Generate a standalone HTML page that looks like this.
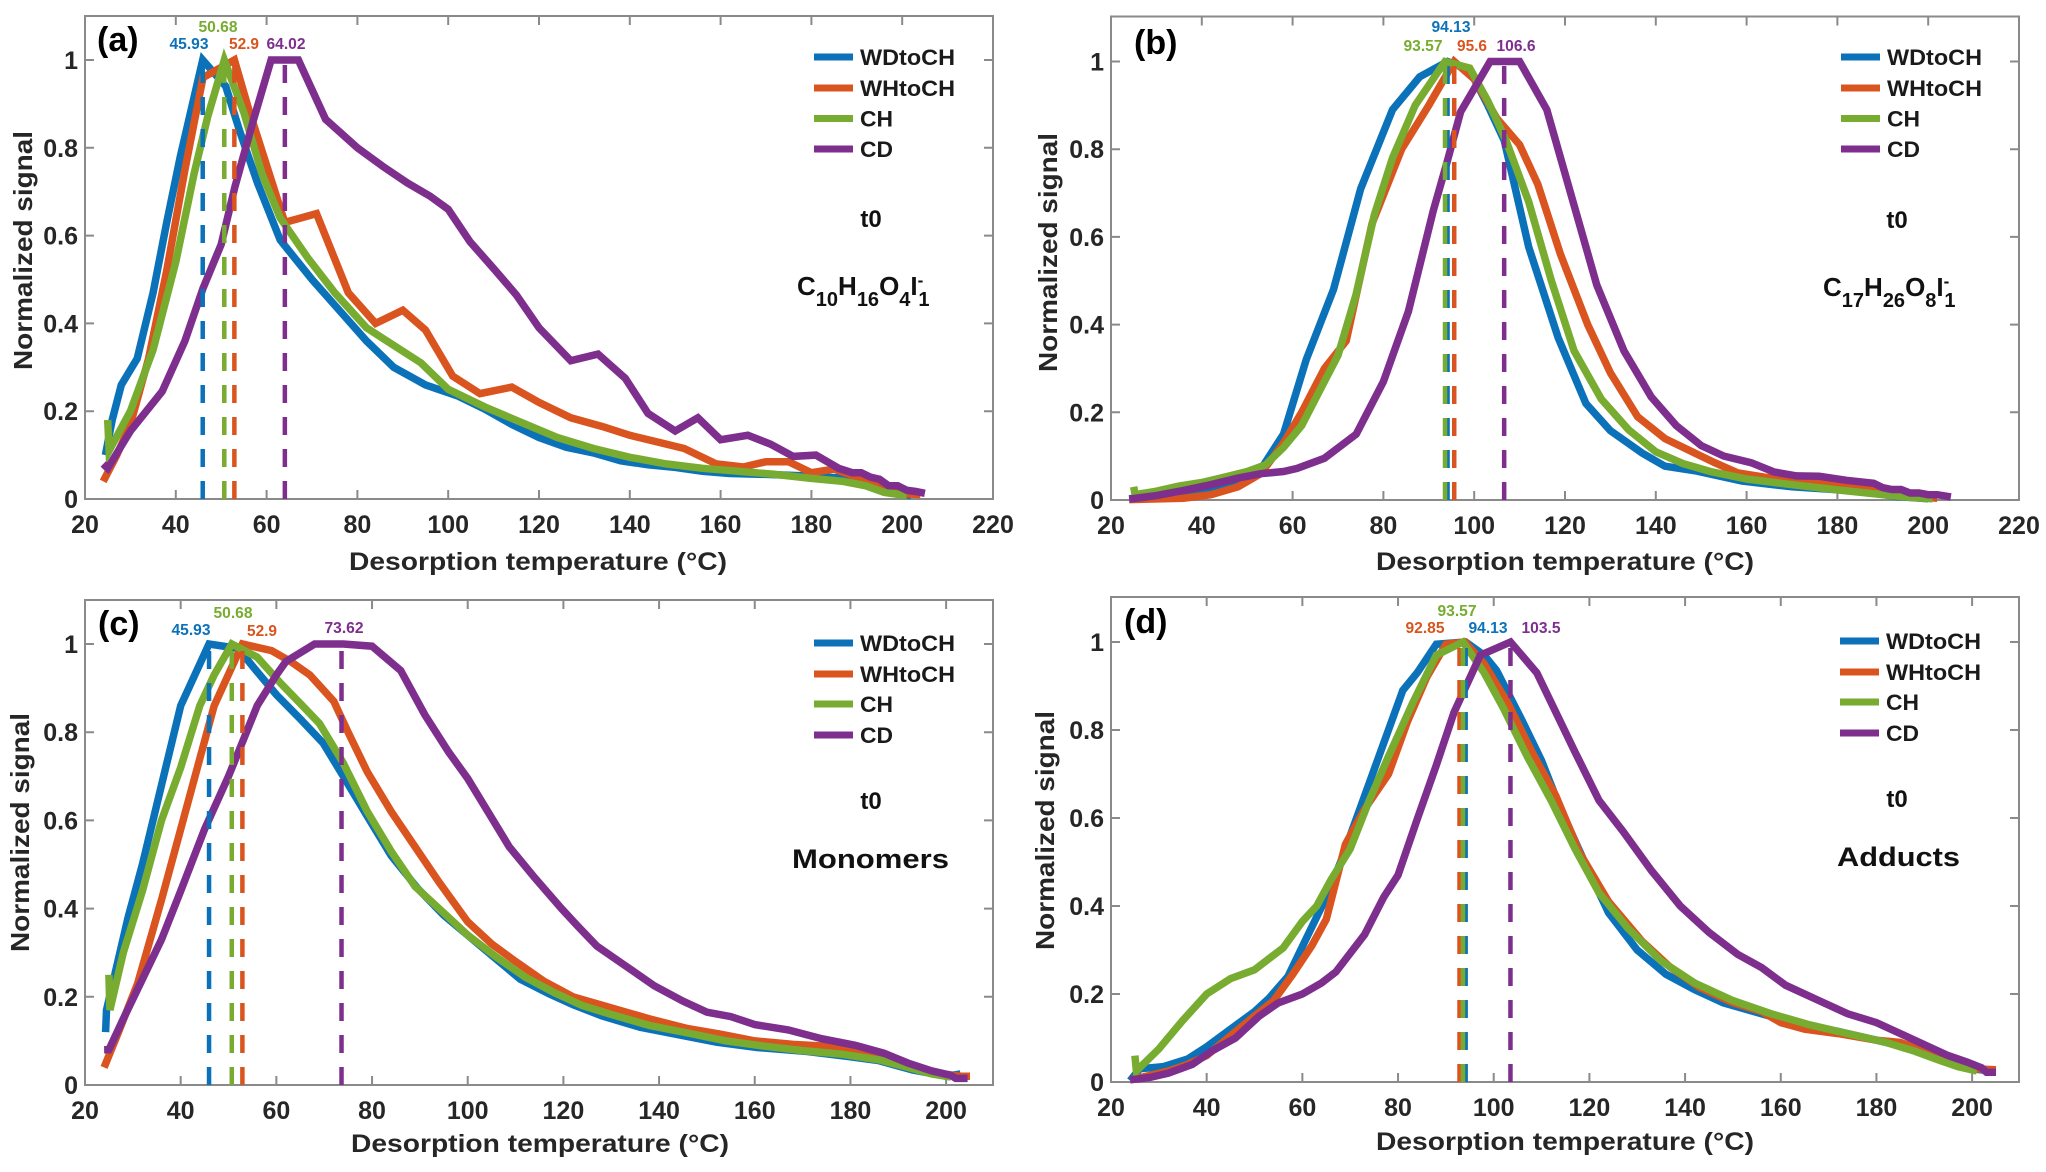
<!DOCTYPE html>
<html lang="en">
<head>
<meta charset="utf-8">
<title>Normalized thermograms</title>
<style>
html,body{margin:0;padding:0;background:#fff;}
svg{display:block;font-family:"Liberation Sans",sans-serif;font-weight:bold;}
</style>
</head>
<body>
<svg id="chart" xmlns="http://www.w3.org/2000/svg" width="2046" height="1172" viewBox="0 0 2046 1172"></svg>
<script>
const seriesNames = ['WDtoCH', 'WHtoCH', 'CH', 'CD'];
const yTickLabels = [0, 0.2, 0.4, 0.6, 0.8, 1];
const xTickLabelsTop = [20, 40, 60, 80, 100, 120, 140, 160, 180, 200, 220];
const xTickLabelsBottom = [20, 40, 60, 80, 100, 120, 140, 160, 180, 200];

// Panel (a)
const aPeaks = [45.93, 52.9, 50.68, 64.02];
const aWDtoCH_T = [24.5,26,28,31.5,35,38,41,45.93,51,54,58,63,70,76,82,88,95,102,108,114,120,126,132,138,144,150,156,162,170,178,186,192,198,202];
const aWDtoCH_V = [0.1,0.18,0.26,0.32,0.47,0.63,0.78,1,0.94,0.84,0.72,0.59,0.5,0.43,0.36,0.3,0.26,0.235,0.205,0.17,0.14,0.118,0.105,0.087,0.078,0.072,0.063,0.058,0.056,0.053,0.048,0.035,0.015,0.008];
const aWHtoCH_T = [24,27,30,34,38,42,46,52.9,56,60,64,71,78,84,90,95,101,107,114,120,127,134,140,146,152,159,165,170,175,180,185,190,195,200,204];
const aWHtoCH_V = [0.04,0.1,0.17,0.32,0.52,0.75,0.96,1,0.89,0.76,0.63,0.65,0.47,0.4,0.43,0.385,0.28,0.24,0.255,0.22,0.185,0.165,0.145,0.13,0.115,0.08,0.073,0.085,0.085,0.06,0.068,0.05,0.03,0.012,0.01];
const aCH_T = [25,25.3,30,35,40,44,47,50.68,55,59,63,69,75,82,88,94,100,108,116,124,132,140,148,156,164,172,180,187,192,196,201];
const aCH_V = [0.18,0.11,0.2,0.34,0.54,0.74,0.87,1,0.88,0.74,0.64,0.55,0.47,0.39,0.35,0.31,0.25,0.21,0.175,0.14,0.115,0.095,0.08,0.07,0.063,0.056,0.047,0.04,0.03,0.015,0.008];
const aCD_T = [24,25,30,37,42,46,50,53,57,61,67,73,80,86,91,96,100,104.8,110,115,120,127,133,139,144,150,155,160,166,171,176,181,186,189,191,193,195,197,199,201,203,205];
const aCD_V = [0.08,0.07,0.155,0.245,0.36,0.48,0.58,0.71,0.86,1,1,0.865,0.8,0.755,0.72,0.69,0.66,0.586,0.525,0.465,0.39,0.315,0.33,0.275,0.195,0.155,0.185,0.135,0.145,0.125,0.097,0.1,0.07,0.06,0.06,0.05,0.045,0.03,0.03,0.02,0.017,0.013];

// Panel (b)
const bPeaks = [94.13, 95.6, 93.57, 106.6];
const bWDtoCH_T = [24,30,36,42,48,53,58,63,69,75,82,88,94.13,99,103,106.6,112,118.5,124.6,130,137,142,149,159,170,185,193,200];
const bWDtoCH_V = [0.003,0.008,0.015,0.025,0.045,0.07,0.15,0.32,0.48,0.71,0.89,0.965,1,0.98,0.9,0.82,0.577,0.37,0.22,0.158,0.107,0.077,0.066,0.043,0.03,0.02,0.008,0.003];
const bWHtoCH_T = [24,36,42,48,53,58,62,67,71.8,77.5,84,90,95.6,100,105,110,114,119,125,130,136,142,148,153,158,164,172,180,187,192,197,202];
const bWHtoCH_V = [0.001,0.004,0.012,0.03,0.06,0.13,0.2,0.3,0.363,0.63,0.8,0.9,1,0.96,0.87,0.81,0.72,0.56,0.4,0.29,0.19,0.14,0.11,0.085,0.062,0.052,0.045,0.035,0.028,0.015,0.008,0.004];
const bCH_T = [25,25.3,30,35,40,45,50,54,58,62,66,70,74,78,82,87,93.57,99,103,107,112,117,122,128,134,140,146,152,160,170,180,190,196,201];
const bCH_V = [0.03,0.012,0.02,0.032,0.04,0.052,0.065,0.08,0.12,0.17,0.25,0.33,0.47,0.65,0.78,0.9,1,0.985,0.91,0.82,0.68,0.5,0.34,0.23,0.16,0.11,0.083,0.065,0.048,0.035,0.023,0.012,0.006,0.003];
const bCD_T = [24,30,36,42,48,53,58,61,67,74,80,85.5,91,94,97,103.5,110,116,121.5,127,133,139,144.5,150,155,161,166,171,176,182,188,190,192,194,196,198,200,202,205];
const bCD_V = [0.002,0.01,0.022,0.035,0.05,0.06,0.065,0.072,0.095,0.15,0.27,0.43,0.66,0.77,0.885,1,1,0.89,0.69,0.49,0.34,0.235,0.17,0.124,0.1,0.085,0.064,0.055,0.054,0.045,0.038,0.028,0.024,0.024,0.016,0.016,0.012,0.012,0.007];

// Panel (c)
const cPeaks = [45.93, 52.9, 50.68, 73.62];
const cWDtoCH_T = [24.3,24.5,26,29,32,36,40,45.93,52,55,60,65,69.8,74,78.7,84,89.6,95,100.5,106,111,117,122,128,136,144,152,160.5,171,180,186,193,200,203];
const cWDtoCH_V = [0.12,0.17,0.24,0.38,0.5,0.68,0.86,1,0.99,0.95,0.885,0.83,0.775,0.7,0.615,0.52,0.445,0.385,0.335,0.285,0.24,0.207,0.182,0.157,0.131,0.114,0.097,0.085,0.076,0.064,0.055,0.034,0.02,0.025];
const cWHtoCH_T = [24,27,31,36,40,44,47,52.9,59,63,67,72,75,79,84,89,94,100,105,110,116,122,130,138,146,153,160,168,175,182,188,193,198,203,205];
const cWHtoCH_V = [0.04,0.12,0.23,0.42,0.58,0.74,0.86,1,0.985,0.96,0.93,0.87,0.8,0.71,0.62,0.54,0.46,0.37,0.32,0.28,0.235,0.2,0.175,0.15,0.128,0.115,0.1,0.092,0.088,0.075,0.06,0.04,0.027,0.02,0.02];
const cCH_T = [25,25.2,28,32,36,40,44,47,50.68,56,61,65,69,74,79,84,89,95,100,106,112,118,124,130,138,146,154,162,170,178,186,192,197,201];
const cCH_V = [0.25,0.17,0.3,0.44,0.6,0.72,0.86,0.93,1,0.97,0.91,0.865,0.82,0.73,0.62,0.53,0.45,0.39,0.34,0.29,0.245,0.21,0.18,0.16,0.135,0.118,0.1,0.088,0.078,0.07,0.057,0.04,0.025,0.018];
const cCD_T = [24,25,28,32,36,40,45,50,53,56,60,62,68,74,80,86,91,96,100,104.5,108.7,114,119.6,123,127,133,139,145,150,155,160,167,174,181,187,192,197,201,202,204.5];
const cCD_V = [0.08,0.08,0.15,0.24,0.33,0.44,0.58,0.7,0.78,0.86,0.93,0.96,1,1,0.995,0.94,0.84,0.755,0.695,0.615,0.54,0.47,0.4,0.36,0.315,0.27,0.225,0.19,0.165,0.155,0.137,0.125,0.105,0.09,0.072,0.05,0.032,0.022,0.015,0.015];

// Panel (d)
const dPeaks = [94.13, 92.85, 93.57, 103.5];
const dWDtoCH_T = [24,26,31,36,40,45,50,53,57,61,65,68,72,76,81,84,88,94.13,98,100.6,106,110,114,119,124,130,136,142,148,156,164,172,180,186,192,197,200,204];
const dWDtoCH_V = [0.003,0.03,0.035,0.052,0.08,0.12,0.16,0.19,0.24,0.33,0.42,0.5,0.62,0.74,0.89,0.93,0.995,1,0.97,0.935,0.82,0.73,0.62,0.5,0.385,0.3,0.245,0.21,0.18,0.155,0.13,0.115,0.095,0.08,0.055,0.038,0.03,0.025];
const dWHtoCH_T = [24,27,32,36,40,45,50,54,58,62,65,69,73,78,82,86,90,94,98,103,108,113,118,124,131,137,143,150,156,160,165,172,180,185,190,195,200,205];
const dWHtoCH_V = [0.005,0.012,0.025,0.04,0.06,0.105,0.15,0.185,0.245,0.31,0.37,0.54,0.62,0.7,0.82,0.92,0.995,1,0.95,0.86,0.75,0.65,0.52,0.41,0.32,0.26,0.215,0.18,0.16,0.135,0.12,0.11,0.095,0.09,0.07,0.05,0.03,0.028];
const dCH_T = [25,25.3,30,35,40,45,50,56,60,63,66,70,74,78,83,88,93.57,98,102,107,112,117,122,128,135,142,150,158,166,174,182,188,193,197,201];
const dCH_V = [0.06,0.025,0.075,0.14,0.2,0.235,0.255,0.305,0.365,0.4,0.46,0.53,0.64,0.74,0.86,0.97,1,0.93,0.85,0.74,0.64,0.53,0.43,0.35,0.275,0.225,0.185,0.155,0.13,0.11,0.09,0.07,0.05,0.035,0.025];
const dCD_T = [24,28,32,37,41,46,51,55,60,64,67,73,77,80,84,88,91.7,97.2,103.5,109,113,117,122,127,133,139,145,151,156,161,168,174,180,185,190,195,199,202,203,205];
const dCD_V = [0.005,0.01,0.02,0.04,0.07,0.1,0.15,0.18,0.2,0.225,0.25,0.335,0.42,0.47,0.597,0.72,0.84,0.97,1,0.93,0.84,0.75,0.64,0.57,0.48,0.4,0.34,0.29,0.26,0.22,0.185,0.155,0.135,0.11,0.085,0.06,0.045,0.032,0.022,0.022];

const seriesColors = ['#0b72b9', '#d9541e', '#77ac30', '#7e2f8e'];
const svg = document.getElementById('chart');
const NS = 'http://www.w3.org/2000/svg';

function svgEl(tag, parent, attrs) {
  const el = document.createElementNS(NS, tag);
  for (const k in attrs) el.setAttribute(k, attrs[k]);
  parent.appendChild(el);
  return el;
}

const panels = [
  { id: 'a', left: 85, right: 993, top: 16, y0: 499, y1: 60, xMax: 220, xTicks: xTickLabelsTop,
    peaks: aPeaks, T: [aWDtoCH_T, aWHtoCH_T, aCH_T, aCD_T], V: [aWDtoCH_V, aWHtoCH_V, aCH_V, aCD_V],
    peakLabelPos: [[189, 49], [244, 49], [218, 32], [286, 49]],
    letterX: 97, letterY: 51, legendX: 814, legendY: [57, 88, 118.5, 149],
    t0X: 871, t0Y: 227, yTitleX: 32, yTitleTop: 131, xTitleLeft: 349, xTitleY: 570, formula: ['10', '16', '4'], formulaX: 797, formulaY: 295 },
  { id: 'b', left: 1111, right: 2019, top: 16.5, y0: 500, y1: 61.5, xMax: 220, xTicks: xTickLabelsTop,
    peaks: bPeaks, T: [bWDtoCH_T, bWHtoCH_T, bCH_T, bCD_T], V: [bWDtoCH_V, bWHtoCH_V, bCH_V, bCD_V],
    peakLabelPos: [[1451, 32], [1472, 51], [1423, 51], [1516, 51]],
    letterX: 1134, letterY: 54, legendX: 1841, legendY: [57, 88, 118.5, 149],
    t0X: 1897, t0Y: 228, yTitleX: 1057, yTitleTop: 133, xTitleLeft: 1376, xTitleY: 570, formula: ['17', '26', '8'], formulaX: 1823, formulaY: 296 },
  { id: 'c', left: 85, right: 993, top: 600, y0: 1085, y1: 644, xMax: 209.8, xTicks: xTickLabelsBottom,
    peaks: cPeaks, T: [cWDtoCH_T, cWHtoCH_T, cCH_T, cCD_T], V: [cWDtoCH_V, cWHtoCH_V, cCH_V, cCD_V],
    peakLabelPos: [[191, 635], [262, 636], [233, 618], [344, 633]],
    letterX: 98, letterY: 635, legendX: 814, legendY: [643, 674, 704, 735],
    t0X: 871, t0Y: 809, yTitleX: 29, yTitleTop: 713, xTitleLeft: 351, xTitleY: 1152, name: 'Monomers', nameX: 792, nameY: 868, nameLen: 157 },
  { id: 'd', left: 1111, right: 2019, top: 597, y0: 1082, y1: 642, xMax: 209.8, xTicks: xTickLabelsBottom,
    peaks: dPeaks, T: [dWDtoCH_T, dWHtoCH_T, dCH_T, dCD_T], V: [dWDtoCH_V, dWHtoCH_V, dCH_V, dCD_V],
    peakLabelPos: [[1488, 633], [1425, 633], [1457, 616], [1541, 633]],
    letterX: 1124, letterY: 633, legendX: 1840, legendY: [641, 672, 702, 733],
    t0X: 1897, t0Y: 807, yTitleX: 1054, yTitleTop: 711, xTitleLeft: 1376, xTitleY: 1150, name: 'Adducts', nameX: 1837, nameY: 866, nameLen: 123 }
];

panels.forEach(function (p) {
  const xScale = function (t) { return p.left + (t - 20) * (p.right - p.left) / (p.xMax - 20); };
  const yScale = function (v) { return p.y0 + v * (p.y1 - p.y0); };

  const g = svgEl('g', svg, {});
  
  

  const frame = svgEl('rect', g, { x: p.left, y: p.top, width: p.right - p.left, height: p.y0 - p.top, fill: 'none', stroke: '#8a8a8a', 'stroke-width': 2 });
  
  

  p.xTicks.forEach(function (t) {
    const x = xScale(t);
    const tick = svgEl('path', g, { d: 'M' + x + ' ' + p.y0 + 'v-9M' + x + ' ' + p.top + 'v9', stroke: '#8a8a8a', 'stroke-width': 2, fill: 'none' });
    
    
    const label = svgEl('text', g, { x: x, y: p.y0 + 34, 'text-anchor': 'middle', 'font-size': 25, fill: '#262626' });
    
    
    label.textContent = t;
  });

  yTickLabels.forEach(function (v) {
    const y = yScale(v);
    const tick = svgEl('path', g, { d: 'M' + p.left + ' ' + y + 'h9M' + p.right + ' ' + y + 'h-9', stroke: '#8a8a8a', 'stroke-width': 2, fill: 'none' });
    
    
    const label = svgEl('text', g, { x: p.left - 7, y: y + 9, 'text-anchor': 'end', 'font-size': 25, fill: '#262626' });
    
    
    label.textContent = v;
  });

  seriesNames.forEach(function (name, i) {
    const pts = p.T[i].map(function (t, j) { return xScale(t).toFixed(1) + ',' + yScale(p.V[i][j]).toFixed(1); }).join(' ');
    const line = svgEl('polyline', g, { points: pts, fill: 'none', stroke: seriesColors[i], 'stroke-width': 7.5, 'stroke-linejoin': 'miter', 'stroke-miterlimit': 6 });
    
    
  });

  seriesNames.forEach(function (name, i) {
    const x = xScale(p.peaks[i]);
    const dash = svgEl('line', g, { x1: x, x2: x, y1: p.y0, y2: yScale(1), stroke: seriesColors[i], 'stroke-width': 4.5, 'stroke-dasharray': '18 14' });
    
    
    const label = svgEl('text', g, { x: p.peakLabelPos[i][0], y: p.peakLabelPos[i][1], 'text-anchor': 'middle', 'font-size': 16, fill: seriesColors[i], textLength: String(p.peaks[i]).length > 4 ? 39 : 30, lengthAdjust: 'spacingAndGlyphs' });
    
    
    label.textContent = p.peaks[i];
  });

  seriesNames.forEach(function (name, i) {
    const key = svgEl('line', g, { x1: p.legendX, x2: p.legendX + 39, y1: p.legendY[i], y2: p.legendY[i], stroke: seriesColors[i], 'stroke-width': 7 });
    
    
    const label = svgEl('text', g, { x: p.legendX + 46, y: p.legendY[i] + 8, 'font-size': 22, fill: '#1a1a1a', textLength: name.length > 2 ? 95 : 33, lengthAdjust: 'spacingAndGlyphs' });
    
    
    label.textContent = name;
  });

  const letter = svgEl('text', g, { x: p.letterX, y: p.letterY, 'font-size': 34, fill: '#000' });
  
  
  letter.textContent = '(' + p.id + ')';

  const t0 = svgEl('text', g, { x: p.t0X, y: p.t0Y, 'text-anchor': 'middle', 'font-size': 24, fill: '#111' });
  
  
  t0.textContent = 't0';

  if (p.formula) {
    const formula = svgEl('text', g, { x: p.formulaX, y: p.formulaY, 'font-size': 26, fill: '#111' });
    
    
    const parts = [['C', 0], [p.formula[0], 11], ['H', -11], [p.formula[1], 11], ['O', -11], [p.formula[2], 11], ['I', -11]];
    parts.forEach(function (part) {
      const span = svgEl('tspan', formula, { dy: part[1], 'font-size': part[1] > 0 ? 20 : 26 });
      span.textContent = part[0];
    });
    const sup = svgEl('tspan', formula, { dy: -9, 'font-size': 17 });
    sup.textContent = '-';
    const sub = svgEl('tspan', formula, { dy: 20, dx: -5, 'font-size': 20 });
    sub.textContent = '1';
  } else {
    const nameText = svgEl('text', g, { x: p.nameX, y: p.nameY, 'font-size': 27, fill: '#111', textLength: p.nameLen, lengthAdjust: 'spacingAndGlyphs' });
    
    
    nameText.textContent = p.name;
  }

  const xTitle = svgEl('text', g, { x: p.xTitleLeft, y: p.xTitleY, 'font-size': 25, fill: '#262626', textLength: 378, lengthAdjust: 'spacingAndGlyphs' });
  
  
  xTitle.textContent = 'Desorption temperature (°C)';

  const yMid = p.yTitleTop + 119.5;
  const yTitle = svgEl('text', g, { x: 0, y: 0, transform: 'translate(' + p.yTitleX + ' ' + yMid + ') rotate(-90)', 'text-anchor': 'middle', 'font-size': 26, fill: '#262626', textLength: 239, lengthAdjust: 'spacingAndGlyphs' });
  
  
  yTitle.textContent = 'Normalized signal';
});
</script>
</body>
</html>
